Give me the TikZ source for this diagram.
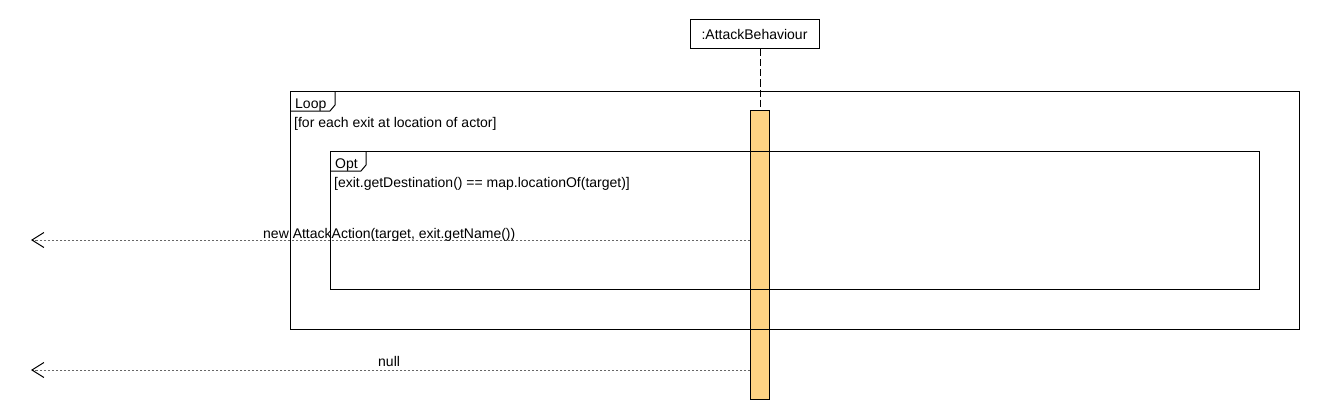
\documentclass[tikz,border=0pt]{standalone}
\usepackage{fontspec}
\setmainfont{Liberation Sans}
\usetikzlibrary{arrows.meta}
\definecolor{actfill}{RGB}{254,211,131}
\begin{document}
\begin{tikzpicture}[x = 1pt, y = -1pt, font = \fontsize{14}{16}\selectfont]
\tikzstyle{FrameStyle}=[draw, line width = 1pt]
\tikzstyle{LifeStyle}=[draw, line width = 1pt, fill = white,
                       minimum width = 129pt, minimum height = 29pt,
                       inner sep = 0pt]
\tikzstyle{ActStyle}=[draw, line width = 1pt, fill = actfill,
                      minimum width = 19pt, minimum height = 289pt,
                      inner sep = 0pt]
\tikzstyle{LabelStyle}=[anchor = base west, inner sep = 0pt]
\tikzstyle{ReturnStyle}=[draw = black!60, line width = 0.8pt,
                         dash pattern = on 2.5pt off 1.5pt,
                         -{Straight Barb[length = 12pt, width = 15pt, color = black, line width = 1pt]}]
\useasboundingbox (0,0) rectangle (1320,420);
\node[LifeStyle] (ab) at (754.5,34.5) {:AttackBehaviour};
\node[ActStyle] (act) at (760,254.5) {};
\draw[line width = 1pt, dash pattern = on 7pt off 3pt] (act.north |- ab.south) -- (act.north);
\draw[FrameStyle] (290,91) rectangle (1299,329);
\draw[FrameStyle] (290,111) -- (330,111) -- (335,105) -- (335,91);
\draw[FrameStyle] (330,151) rectangle (1259,289);
\draw[FrameStyle] (330,171) -- (361,171) -- (366,165) -- (366,151);
\node[LabelStyle] (loop) at (295,108) {Loop};
\node[LabelStyle] (g1) at (294,127) {[for each exit at location of actor]};
\node[LabelStyle] (opt) at (335,168) {Opt};
\node[LabelStyle] (g2) at (334,187) {[exit.getDestination() == map.locationOf(target)]};
\coordinate (r1) at (31,240);
\coordinate (r2) at (31,370);
\draw[ReturnStyle] (act.west |- r1) -- (r1);
\draw[ReturnStyle] (act.west |- r2) -- (r2);
\node[LabelStyle] (m1) at (263,238) {new AttackAction(target, exit.getName())};
\node[LabelStyle] (m2) at (378,366) {null};
\end{tikzpicture}
\end{document}
